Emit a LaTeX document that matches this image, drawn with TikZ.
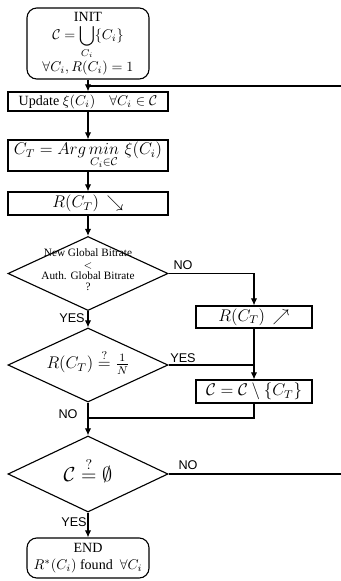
\documentclass[tikz,border=0pt]{standalone}
\usepackage{amsmath,amssymb}
\usepackage{fontspec}
\setmainfont{Liberation Serif}
\newfontfamily\lblfont{Liberation Sans}
\usetikzlibrary{shapes.geometric,arrows.meta}

\tikzset{
  box/.style={rectangle,draw,line width=0.8pt,inner sep=1pt,minimum width=4cm},
  rbox/.style={rectangle,rounded corners=7pt,draw,line width=0.8pt,inner sep=1pt,minimum width=3.05cm,align=center},
  dia/.style={diamond,draw,line width=0.8pt,inner sep=0pt,minimum width=4cm},
  yn/.style={font=\lblfont\small,inner sep=0pt},
  flow/.style={line width=0.8pt,-{Latex[length=5pt,width=4.5pt]}},
  plain/.style={line width=0.8pt}
}

\begin{document}
\begin{tikzpicture}[x=0.025cm,y=-0.025cm]
  \useasboundingbox (0,0) rectangle (341,581);

  % main column
  \node[rbox,minimum height=1.775cm] (init) at (88,43.5)
    {INIT\\[1pt] $\displaystyle\mathcal{C}=\bigcup_{C_i}\{C_i\}$\\[0pt] $\forall C_i, R(C_i)=1$};
  \node[box,minimum height=0.475cm] (upd) at (88,101.5) {Update $\xi(C_i)\quad\forall C_i\in\mathcal{C}$};
  \node[box,minimum height=0.775cm,font=\large] (ct) at (88,155.5)
    {$C_T = Arg\mathop{min}\limits_{C_i\in\mathcal{C}}\,\xi(C_i)$};
  \node[box,minimum height=0.575cm,font=\large] (dec) at (88,203.5) {$R(C_T)\,\searrow$};
  \node[dia,minimum height=1.85cm] (d1) at (88,273.5) {};
  \node[font=\footnotesize,align=center,inner sep=0pt] (q1) at (88,270)
    {New Global Bitrate\\[-1.5pt] {\scriptsize$<$}\\[-1.5pt] Auth. Global Bitrate\\[-1.5pt] ?};
  \node[dia,minimum height=1.85cm] (d2) at (88,365) {};
  \node[font=\large,inner sep=0pt] (q2) at (88,362) {$R(C_T)\stackrel{?}{=}\frac{1}{N}$};
  \node[dia,minimum height=1.9cm] (d3) at (88,474) {};
  \node[font=\Large,inner sep=0pt] (q3) at (88,470) {$\mathcal{C}\stackrel{?}{=}\emptyset$};
  \node[rbox,minimum height=1cm] (endn) at (88,558)
    {END\\ $R^{*}(C_i)$ found \ $\forall C_i$};

  % right column
  \node[box,minimum width=2.9cm,minimum height=0.55cm,font=\large] (inc) at (254,317) {$R(C_T)\,\nearrow$};
  \node[box,minimum width=2.9cm,minimum height=0.575cm,font=\large] (rem) at (254,391.5)
    {$\mathcal{C}=\mathcal{C}\setminus\{C_T\}$};

  \coordinate (j1) at (88,86);
  \coordinate (rt) at (343,86);
  \coordinate (j2) at (254,365);
  \coordinate (j3) at (88,418);

  \path[flow]
    (init) edge (upd)
    (upd) edge (ct)
    (ct) edge (dec)
    (dec) edge (d1)
    (d1) edge (d2)
    (d2) edge (d3)
    (d3) edge (endn)
    (inc) edge (rem);
  \draw[flow] (d1.east) -| (inc.north);
  \draw[plain] (d2.east) -- (j2);
  \draw[plain] (rem.south) |- (j3);
  \draw[plain] (d3.east) -| (rt) -- (j1);

  % labels
  \node[yn] (no1) at (183,265) {NO};
  \node[yn] (yes1) at (72,318) {YES};
  \node[yn] (yes2) at (183,358) {YES};
  \node[yn] (no2) at (68,414) {NO};
  \node[yn] (no3) at (188,465) {NO};
  \node[yn] (yes3) at (74,522) {YES};
\end{tikzpicture}
\end{document}
